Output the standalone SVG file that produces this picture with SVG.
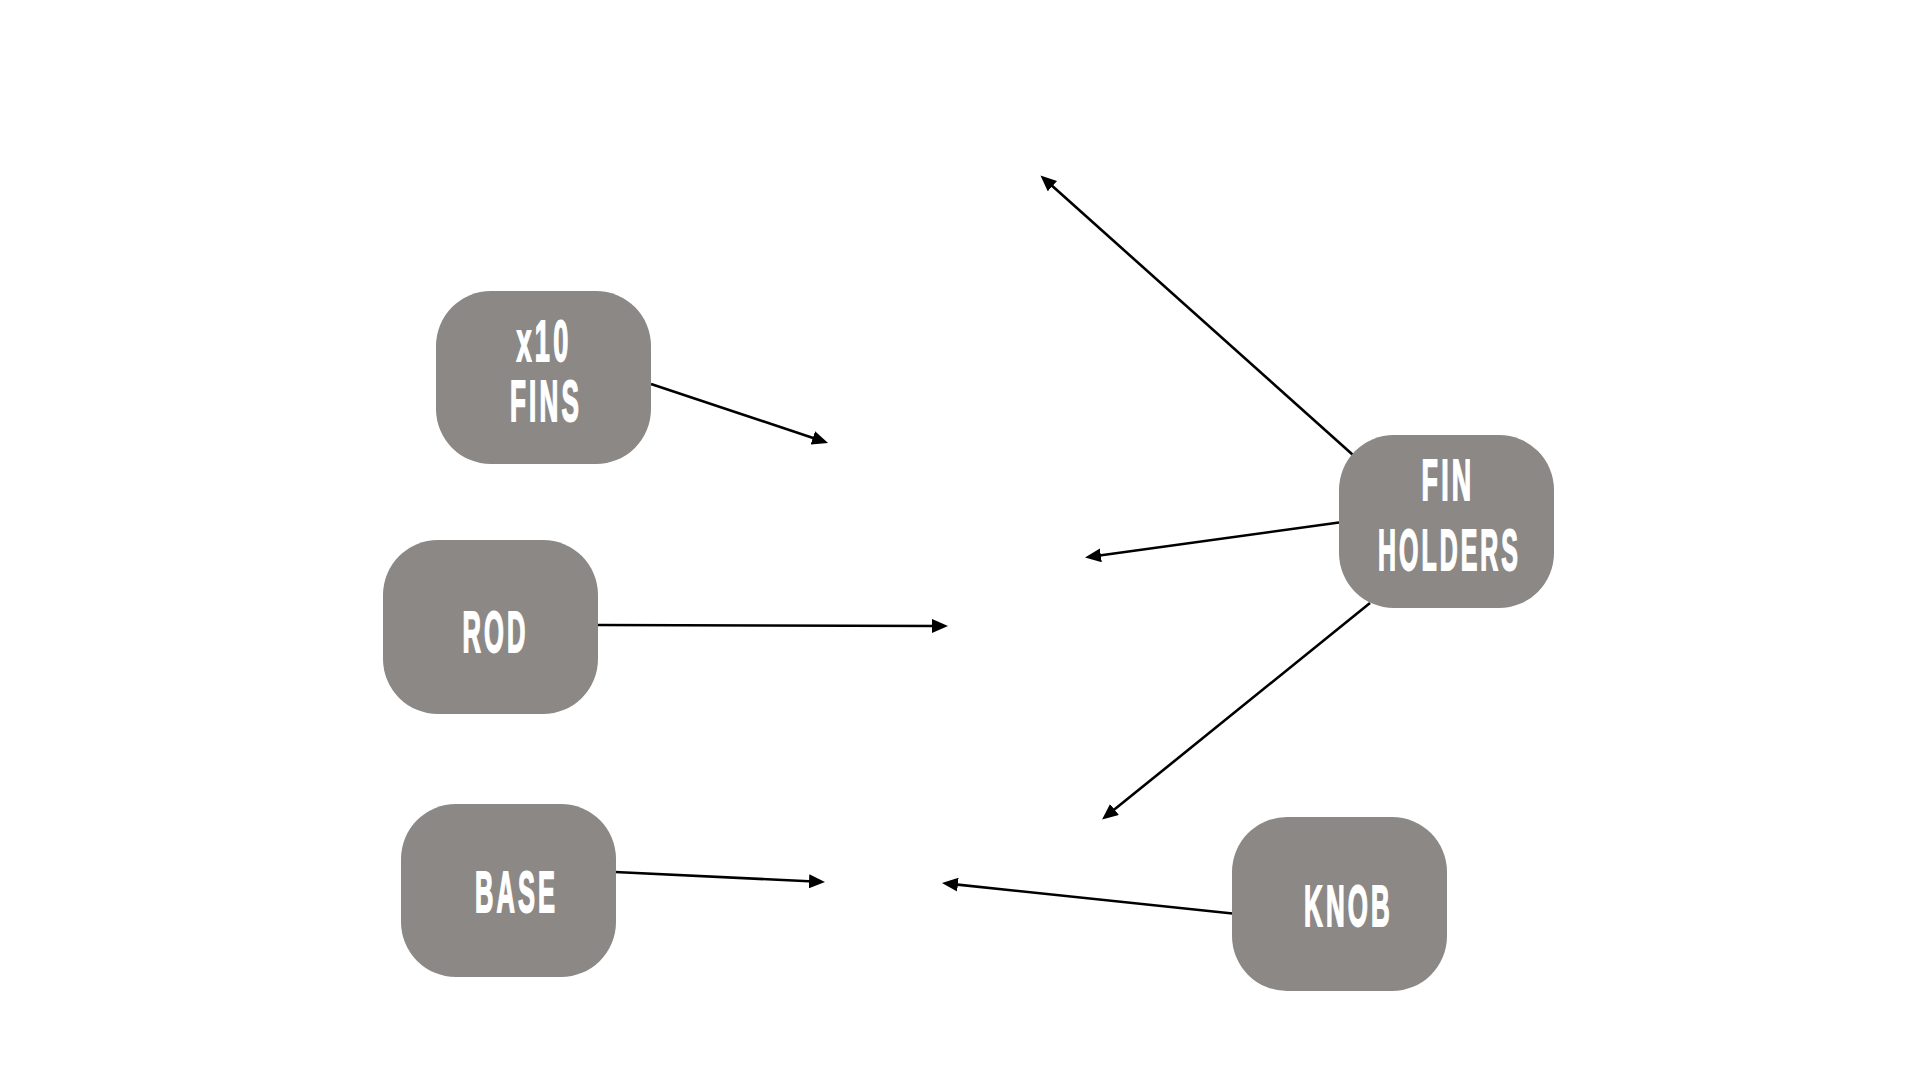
<svg xmlns="http://www.w3.org/2000/svg" width="1920" height="1080" viewBox="0 0 1920 1080">
  <defs>
    <marker id="arrow" markerUnits="userSpaceOnUse" markerWidth="16" markerHeight="14" refX="5" refY="7" orient="auto">
      <path d="M0,0 L16,7 L0,14 Z" fill="#000"/>
    </marker>
  </defs>
  <style>
    .box { fill: #8b8885; }
    .lbl { font-family: "Liberation Sans", Arial, sans-serif; font-weight: bold; font-size: 58px; letter-spacing: 7px; fill: #fff; stroke: #fff; stroke-width: 1.8; text-anchor: middle; }
    .conn { stroke: #000; stroke-width: 2.6; fill: none; marker-end: url(#arrow); }
  </style>
  <rect width="1920" height="1080" fill="#fff"/>
  <g id="connectors">
    <line class="conn" x1="651" y1="384" x2="817.6" y2="439.5"/>
    <line class="conn" x1="597" y1="625" x2="937" y2="626"/>
    <line class="conn" x1="615" y1="872" x2="814" y2="881.5"/>
    <line class="conn" x1="1353" y1="455" x2="1048.7" y2="182.8"/>
    <line class="conn" x1="1339" y1="522.5" x2="1095.9" y2="556"/>
    <line class="conn" x1="1370" y1="603" x2="1110.6" y2="812.6"/>
    <line class="conn" x1="1232.5" y1="913.5" x2="952.9" y2="884.1"/>
  </g>
  <g id="node-fins">
    <rect class="box" x="436" y="291" width="215" height="173" rx="55" ry="55"/>
    <text class="lbl" x="544" y="361" textLength="55" lengthAdjust="spacingAndGlyphs">x10</text>
    <text class="lbl" x="546" y="421" textLength="72" lengthAdjust="spacingAndGlyphs">FINS</text>
  </g>
  <g id="node-rod">
    <rect class="box" x="383" y="540" width="215" height="174" rx="55" ry="55"/>
    <text class="lbl" x="495.5" y="652" textLength="66" lengthAdjust="spacingAndGlyphs">ROD</text>
  </g>
  <g id="node-base">
    <rect class="box" x="401" y="804" width="215" height="173" rx="55" ry="55"/>
    <text class="lbl" x="516.5" y="912" textLength="83" lengthAdjust="spacingAndGlyphs">BASE</text>
  </g>
  <g id="node-fin-holders">
    <rect class="box" x="1339" y="435" width="215" height="173" rx="55" ry="55"/>
    <text class="lbl" x="1448" y="500" textLength="53" lengthAdjust="spacingAndGlyphs">FIN</text>
    <text class="lbl" x="1449.5" y="570" textLength="143" lengthAdjust="spacingAndGlyphs">HOLDERS</text>
  </g>
  <g id="node-knob">
    <rect class="box" x="1232" y="817" width="215" height="174" rx="55" ry="55"/>
    <text class="lbl" x="1348.5" y="925.5" textLength="89" lengthAdjust="spacingAndGlyphs">KNOB</text>
  </g>
</svg>
